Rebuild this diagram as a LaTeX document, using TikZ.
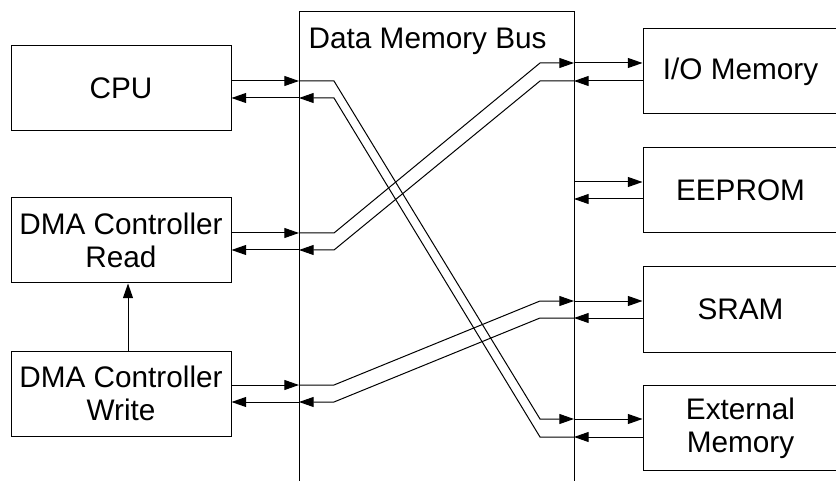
\documentclass[tikz,border=0pt]{standalone}
\usepackage{fontspec}
\setmainfont{Liberation Sans}
\usetikzlibrary{arrows.meta}

\tikzset{
  box/.style={rectangle, draw, line width=0.75pt, minimum width=165pt, minimum height=63.75pt, align=center, inner sep=0pt},
  rbox/.style={box, minimum width=146.25pt},
  arr/.style={-{Triangle[length=11pt,width=7.5pt]}, line width=0.75pt},
  lbl/.style={font=\fontsize{22.3pt}{25pt}\selectfont}
}

\begin{document}
\begin{tikzpicture}[x=0.75pt, y=-0.75pt]
        \useasboundingbox (0,0) rectangle (836,481);

        % Bus
        \draw[line width=0.75pt] (299,481) -- (299,12) -- (574,12) -- (574,481);
        \node[lbl, anchor=west] (bus) at (304,41) {Data Memory Bus};

        % Masters on the left
        \node[box, lbl] (CPU) at (121,88.5) {CPU};
        \node[box, lbl] (RD) at (121,240.5) {DMA Controller\\Read};
        \node[box, lbl] (WR) at (121,393.5) {DMA Controller\\Write};

        % Slaves on the right
        \node[rbox, lbl] (IO) at (740.5,71.5) {I/O Memory};
        \node[rbox, lbl] (EE) at (740.5,190) {EEPROM};
        \node[rbox, lbl] (SR) at (740.5,309.5) {SRAM};
        \node[rbox, lbl] (EX) at (740.5,428) {External\\Memory};

        % Points on the left side of the bus
        \coordinate (cpuO) at (299,81);
        \coordinate (cpuI) at (299,98);
        \coordinate (rdO) at (299,233);
        \coordinate (rdI) at (299,250);
        \coordinate (wrO) at (299,385);
        \coordinate (wrI) at (299,402);

        % Points on the right side of the bus
        \coordinate (ioI) at (574,63);
        \coordinate (ioO) at (574,81);
        \coordinate (eeI) at (574,182);
        \coordinate (eeO) at (574,199);
        \coordinate (srI) at (574,301);
        \coordinate (srO) at (574,318);
        \coordinate (exI) at (574,419);
        \coordinate (exO) at (574,437);

        % Masters to bus and back
        \draw[arr] (CPU.east |- cpuO) -- (cpuO);
        \draw[arr] (cpuI) -- (CPU.east |- cpuI);
        \draw[arr] (RD.east |- rdO) -- (rdO);
        \draw[arr] (rdI) -- (RD.east |- rdI);
        \draw[arr] (WR.east |- wrO) -- (wrO);
        \draw[arr] (wrI) -- (WR.east |- wrI);

        % Bus to slaves and back
        \draw[arr] (ioI) -- (IO.west |- ioI);
        \draw[arr] (IO.west |- ioO) -- (ioO);
        \draw[arr] (eeI) -- (EE.west |- eeI);
        \draw[arr] (EE.west |- eeO) -- (eeO);
        \draw[arr] (srI) -- (SR.west |- srI);
        \draw[arr] (SR.west |- srO) -- (srO);
        \draw[arr] (exI) -- (EX.west |- exI);
        \draw[arr] (EX.west |- exO) -- (exO);

        % Routes through the bus
        \draw[arr] (cpuO) -- (334,81) -- (540,419) -- (exI);
        \draw[arr] (exO) -- (540,437) -- (334,98) -- (cpuI);
        \draw[arr] (rdO) -- (334,233) -- (540,63) -- (ioI);
        \draw[arr] (ioO) -- (540,81) -- (334,250) -- (rdI);
        \draw[arr] (wrO) -- (334,385) -- (540,301) -- (srI);
        \draw[arr] (srO) -- (540,318) -- (334,402) -- (wrI);

        % Write controller to read controller
        \draw[arr] ([xshift=5.25pt]WR.north) -- ([xshift=5.25pt]RD.south);
\end{tikzpicture}
\end{document}
